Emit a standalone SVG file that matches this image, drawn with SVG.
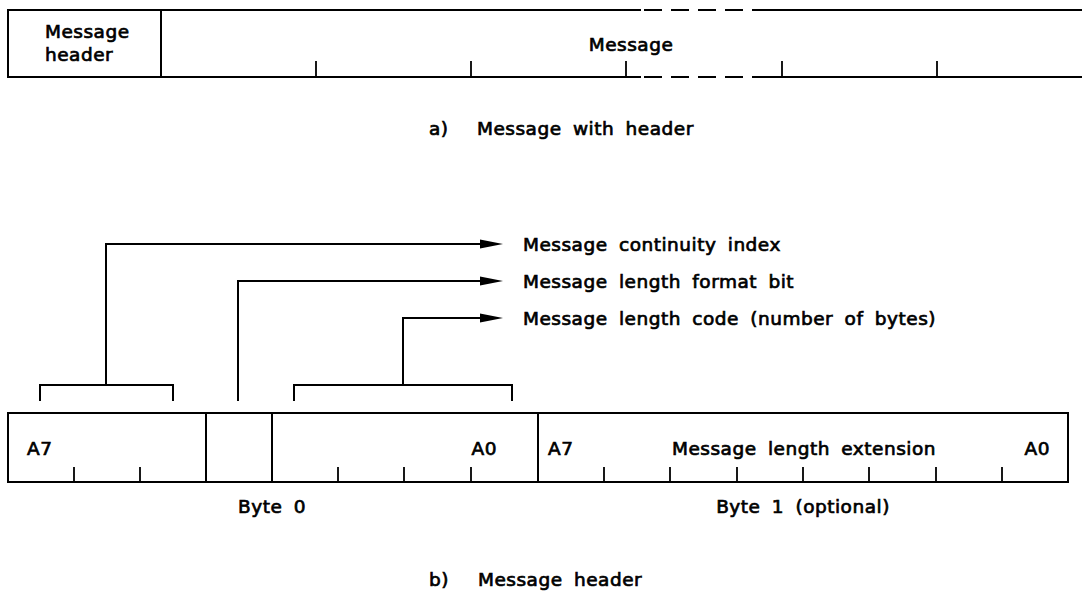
<svg xmlns="http://www.w3.org/2000/svg" width="1082" height="597" viewBox="0 0 1082 597">
<style>
.t{font-family:"DejaVu Sans",sans-serif;font-size:18.5px;fill:#000;stroke:#000;stroke-width:0.7;letter-spacing:0.5px;word-spacing:5px}
.ln{stroke:#000;stroke-width:2;fill:none;stroke-linecap:square}
.tk{stroke:#000;stroke-width:1.8;fill:none}
.ds{stroke:#000;stroke-width:2;fill:none;stroke-dasharray:18 9}
.ah{fill:#000}
</style>
<rect width="1082" height="597" fill="#fff"/>
<g id="message-with-header">
  <g id="header-field">
    <path class="ln" d="M161,10 H8 V77 H161 Z"/>
    <text class="t" x="45" y="38">Message</text>
    <text class="t" x="45" y="61">header</text>
  </g>
  <g id="message-field">
    <path class="ln" d="M161,10 H640 M760,10 H1082 M161,77 H640 M760,77 H1082"/>
    <path class="ds" d="M644,10 H760 M644,77 H760"/>
    <path class="tk" d="M316,61 V77 M471,61 V77 M626,61 V77 M782,61 V77 M937,61 V77"/>
    <text class="t" x="631" y="51" text-anchor="middle">Message</text>
  </g>
  <text class="t" x="429" y="135">a)</text>
  <text class="t" x="477" y="135">Message with header</text>
</g>
<g id="connectors">
  <path class="ln" d="M40,400 V385 H173 V400 M106,385 V244 H484"/>
  <polygon class="ah" points="480,239.5 503,244 480,248.5"/>
  <path class="ln" d="M238,400 V281 H484"/>
  <polygon class="ah" points="480,276.5 503,281 480,285.5"/>
  <path class="ln" d="M294,400 V385 H512 V400 M403,385 V318 H484"/>
  <polygon class="ah" points="480,313.5 503,318 480,322.5"/>
</g>
<g id="label-continuity"><text class="t" x="523" y="251">Message continuity index</text></g>
<g id="label-format"><text class="t" x="523" y="288">Message length format bit</text></g>
<g id="label-code"><text class="t" x="523" y="325">Message length code (number of bytes)</text></g>
<g id="byte0">
  <rect class="ln" x="8" y="413" width="530" height="69"/>
  <path class="ln" d="M206,413 V482 M272,413 V482"/>
  <path class="tk" d="M74,467 V482 M140,467 V482 M338,467 V482 M404,467 V482 M471,467 V482"/>
  <text class="t" x="27" y="455">A7</text>
  <text class="t" x="497" y="455" text-anchor="end">A0</text>
  <text class="t" x="272" y="513" text-anchor="middle">Byte 0</text>
</g>
<g id="byte1">
  <rect class="ln" x="538" y="413" width="530" height="69"/>
  <path class="tk" d="M604,467 V482 M670,467 V482 M737,467 V482 M803,467 V482 M869,467 V482 M936,467 V482 M1002,467 V482"/>
  <text class="t" x="548" y="455">A7</text>
  <text class="t" x="672" y="455">Message length extension</text>
  <text class="t" x="1050" y="455" text-anchor="end">A0</text>
  <text class="t" x="803" y="513" text-anchor="middle">Byte 1 (optional)</text>
</g>
<g id="caption-b">
  <text class="t" x="429" y="586">b)</text>
  <text class="t" x="478" y="586">Message header</text>
</g>
</svg>
